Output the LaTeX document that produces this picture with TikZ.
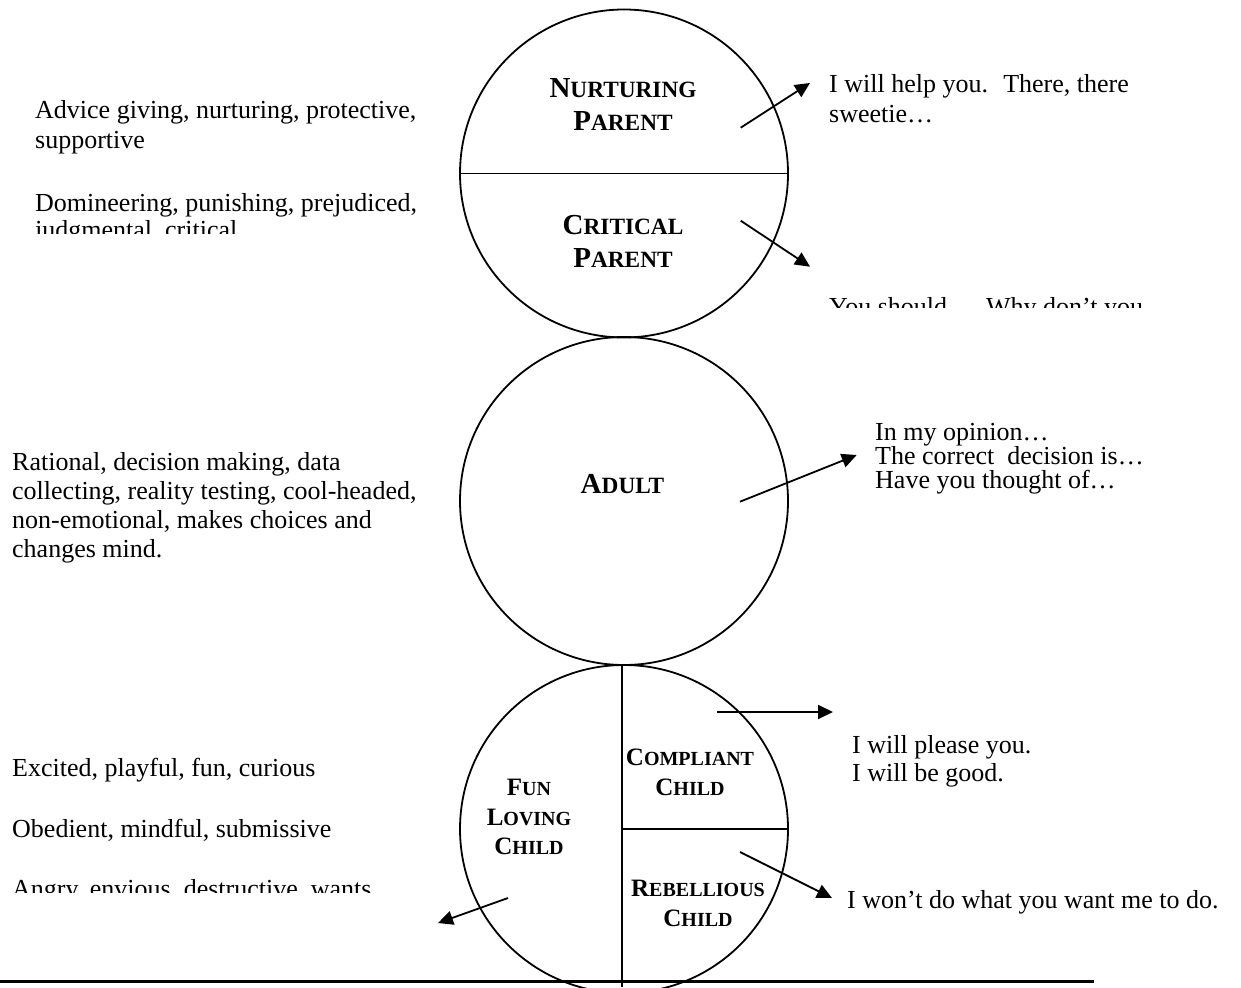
\documentclass[tikz,border=0pt]{standalone}
\usepackage{fontspec}
\setmainfont{Liberation Serif}
\usetikzlibrary{arrows.meta}

% Word-style small capitals
\newcommand{\capsbig}[2]{{\fontsize{29}{33}\selectfont #1}{\fontsize{23.3}{33}\selectfont #2}}
\newcommand{\capssmall}[2]{{\fontsize{25}{29.5}\selectfont #1}{\fontsize{20}{29.5}\selectfont #2}}

\tikzset{
    ego/.style={draw, circle, line width=1.8pt, minimum size=328pt, inner sep=0pt},
    divider/.style={line width=1.8pt},
    egolabel/.style={font=\bfseries\fontsize{29}{33}\selectfont, align=center, anchor=north, inner sep=0pt},
    childlabel/.style={font=\bfseries\fontsize{25}{29.5}\selectfont, align=center, anchor=north, inner sep=0pt},
    trait/.style={font=\fontsize{26}{#1}\selectfont, align=left, anchor=north west, inner sep=0pt},
    trait/.default=28,
    says/.style={line width=1.8pt, -{Triangle[length=15pt,width=14pt]}}
}

\begin{document}
\begin{tikzpicture}[x=1pt,y=-1pt]
        % Fix the page size
        \path[use as bounding box] (0,0) rectangle (1241,987);
        \clip (0,0) rectangle (1241,987);

        % Draw the three ego states
        \node[ego] (parent) at (624,173.5) {};
        \node[ego] (adult) at (624,501) {};
        \node[ego] (child) at (624,829) {};

        % Split the parent circle
        \draw[divider] (parent.west) -- (parent.east);

        % Split the child circle
        \coordinate (child-foot) at (622,987);
        \coordinate (child-top) at (622,665);
        \coordinate (child-mid) at (622,829);
        \draw[divider] (child-top) -- (child-foot);
        \draw[divider] (child-mid) -- (child.east);

        % Names of the ego states
        \node[egolabel] (np-lbl) at (623,78) {\capsbig{N}{URTURING}\\\capsbig{P}{ARENT}};
        \node[egolabel] (cp-lbl) at (623,215.5) {\capsbig{C}{RITICAL}\\\capsbig{P}{ARENT}};
        \node[egolabel] (ad-lbl) at (622.5,474.5) {\capsbig{A}{DULT}};
        \node[childlabel] (fc-lbl) at (529,779) {\capssmall{F}{UN}\\\capssmall{L}{OVING}\\\capssmall{C}{HILD}};
        \node[childlabel] (cc-lbl) at (690,749) {\capssmall{C}{OMPLIANT}\\\capssmall{C}{HILD}};
        \node[childlabel] (rc-lbl) at (698,880) {\capssmall{R}{EBELLIOUS}\\\capssmall{C}{HILD}};

        % Traits on the left
        \node[trait=30] (np-trait) at (35,100) {Advice giving, nurturing, protective,\\supportive};
        \begin{scope}
            \clip (0,180) rectangle (450,233);
            \node[trait=27] (cp-trait) at (35,193) {Domineering, punishing, prejudiced,\\judgmental, critical};
        \end{scope}
        \node[trait=29] (ad-trait) at (12,452) {Rational, decision making, data\\collecting, reality testing, cool-headed,\\non-emotional, makes choices and\\changes mind.};
        \node[trait] (fc-trait) at (12,758) {Excited, playful, fun, curious};
        \node[trait] (cc-trait) at (12,819) {Obedient, mindful, submissive};
        \begin{scope}
            \clip (0,865) rectangle (450,892);
            \node[trait] (rc-trait) at (12,879) {Angry, envious, destructive, wants};
        \end{scope}

        % What each state says
        \node[trait=30] (np-says) at (829,74) {I will help you.~ There, there\\sweetie…};
        \begin{scope}
            \clip (800,285) rectangle (1241,307);
            \node[trait] (cp-says) at (829,297) {You should…~ Why don’t you};
        \end{scope}
        \node[trait=24] (ad-says) at (875,423) {In my opinion…\\The correct~ decision is…\\Have you thought of…};
        \node[trait=28] (cc-says) at (852,735) {I will please you.\\I will be good.};
        \node[trait] (rc-says) at (847,890) {I won’t do what you want me to do.};

        % Arrow ends
        \coordinate (np-from) at (740.7,127.7);
        \coordinate (np-to) at (810,83);
        \coordinate (cp-from) at (740.7,220.7);
        \coordinate (cp-to) at (810,266.7);
        \coordinate (ad-from) at (740,501.7);
        \coordinate (ad-to) at (856.7,455);
        \coordinate (cc-from) at (717,712);
        \coordinate (cc-to) at (833,712);
        \coordinate (rc-from) at (740,852);
        \coordinate (rc-to) at (832,898);
        \coordinate (fc-from) at (508,898);
        \coordinate (fc-to) at (438,923);

        % Draw the arrows
        \draw[says] (np-from) -- (np-to);
        \draw[says] (cp-from) -- (cp-to);
        \draw[says] (ad-from) -- (ad-to);
        \draw[says] (cc-from) -- (cc-to);
        \draw[says] (rc-from) -- (rc-to);
        \draw[says] (fc-from) -- (fc-to);

        % Rule at the foot of the page
        \coordinate (rule-l) at (0,981);
        \coordinate (rule-r) at (1094,981);
        \draw[line width=3pt] (rule-l) -- (rule-r);
\end{tikzpicture}
\end{document}
